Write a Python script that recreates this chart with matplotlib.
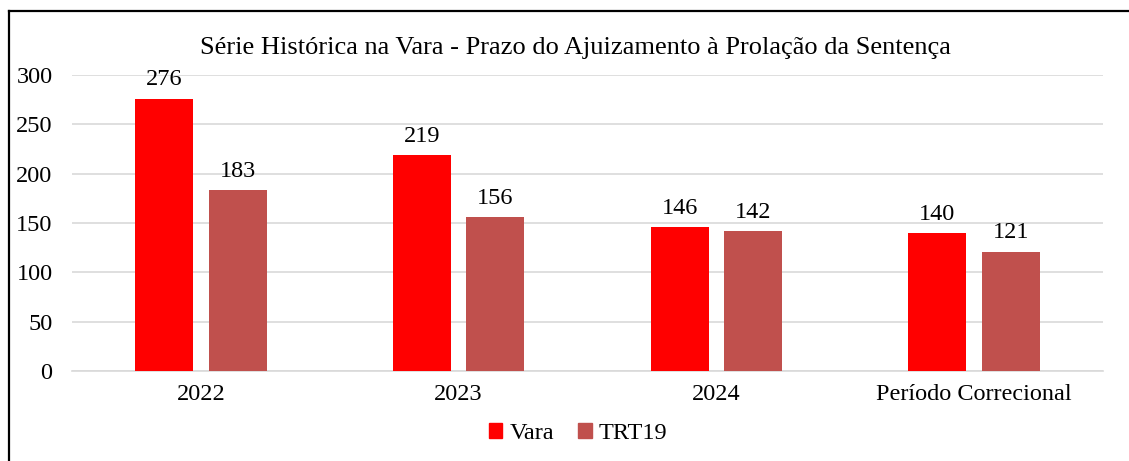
import numpy as np
import matplotlib
matplotlib.use("Agg")
import matplotlib.pyplot as plt
from matplotlib.lines import Line2D
from matplotlib.patches import Patch

# -------------------------------
# DATA
# -------------------------------
categories = ["2022", "2023", "2024", "Período Correcional"]
vara = [276, 219, 146, 140]
trt19 = [183, 156, 142, 121]
series_names = ["Vara", "TRT19"]
y_ticks = [0, 50, 100, 150, 200, 250, 300]
title = "Série Histórica na Vara - Prazo do Ajuizamento à Prolação da Sentença"

COLOR_VARA = "#FF0000"
COLOR_TRT = "#C0504D"
GRID = "#D9D9D9"
FS = 17.5

plt.rcParams["font.family"] = ["Liberation Serif", "DejaVu Serif"]

fig = plt.figure(figsize=(11.29, 4.61), dpi=100)
ax = fig.add_axes([0.0638, 0.1952, 0.977 - 0.0638, 0.8373 - 0.1952])

x = np.arange(len(categories))
w = 0.225
off = 0.1424
b1 = ax.bar(x - off, vara, w, color=COLOR_VARA, zorder=3)
b2 = ax.bar(x + off, trt19, w, color=COLOR_TRT, zorder=3)

for bars, vals in [(b1, vara), (b2, trt19)]:
    for r, v in zip(bars, vals):
        ax.annotate(str(v), (r.get_x() + r.get_width() / 2, v),
                    xytext=(0, 6), textcoords="offset points",
                    ha="center", va="bottom", fontsize=FS)

ax.set_xlim(-0.5, len(categories) - 0.5)
ax.set_ylim(0, 300)
ax.set_yticks(y_ticks)
ax.set_xticks(x)
ax.set_xticklabels(categories)
ax.tick_params(axis="both", length=0, labelsize=FS)
ax.tick_params(axis="y", pad=14)
ax.tick_params(axis="x", pad=9)
ax.grid(axis="y", color=GRID, linewidth=1.2, zorder=0)
for s in ["top", "right", "left"]:
    ax.spines[s].set_visible(False)
ax.spines["bottom"].set_color(GRID)
ax.spines["bottom"].set_linewidth(1.2)

fig.text(0.51, 0.895, title, ha="center", va="center", fontsize=19)

handles = [Patch(color=COLOR_VARA), Patch(color=COLOR_TRT)]
fig.legend(handles, series_names, loc="center", bbox_to_anchor=(0.512, 0.06),
           ncol=2, frameon=False, fontsize=FS, handlelength=0.55, handleheight=0.55,
           handletextpad=0.3, columnspacing=1.0)

# outer border: only the left and top edges are inside the image
bx = 8.5 / 1129
by = 1 - 11.5 / 461
fig.add_artist(Line2D([bx, bx], [0, by], transform=fig.transFigure,
                      color="black", linewidth=1.6, solid_capstyle="projecting"))
fig.add_artist(Line2D([bx, 1], [by, by], transform=fig.transFigure,
                      color="black", linewidth=1.6, solid_capstyle="projecting"))

fig.savefig("out.png", dpi=100)
